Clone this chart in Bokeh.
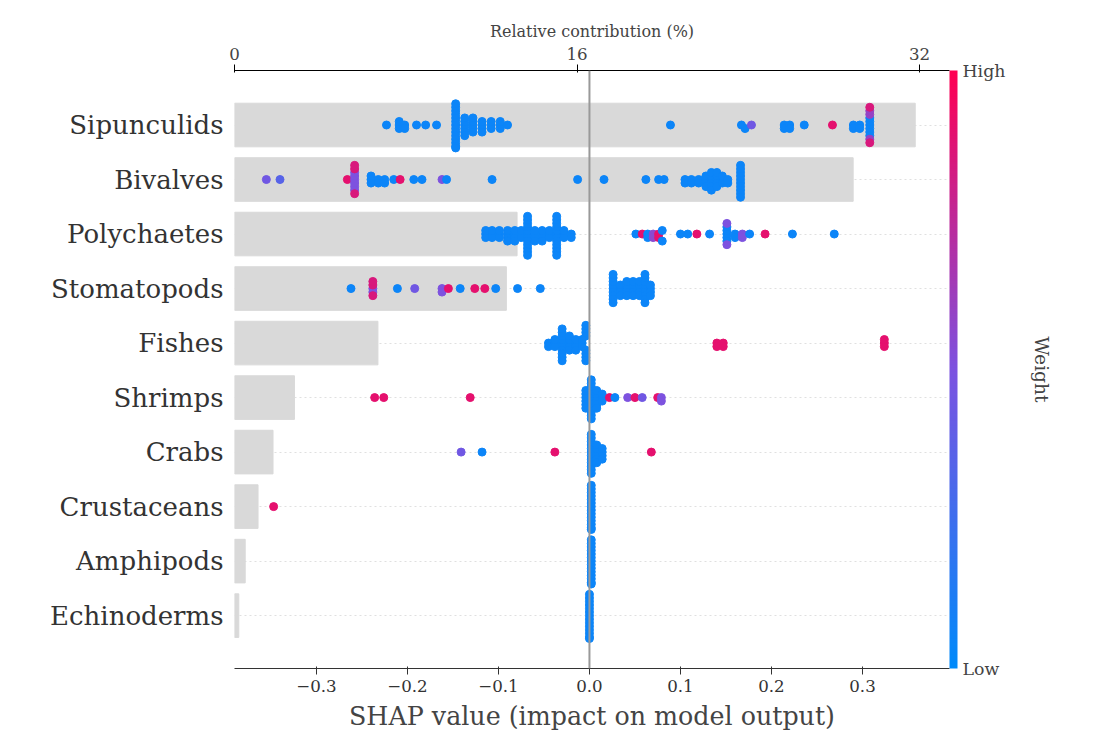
from bokeh.embed import file_html
from bokeh.models import (ColorBar, ColumnDataSource, FixedTicker, LinearAxis,
                          LinearColorMapper, Range1d, Span)
from bokeh.plotting import figure
from bokeh.resources import INLINE
from bokeh.transform import linear_cmap

FONT = "DejaVu Serif"

groups = ["Sipunculids", "Bivalves", "Polychaetes", "Stomatopods", "Fishes",
          "Shrimps", "Crabs", "Crustaceans", "Amphipods", "Echinoderms"]

# relative contribution (%) per group
contribution = [31.8, 28.9, 13.2, 12.7, 6.7, 2.8, 1.8, 1.1, 0.5, 0.2]

# SHAP clusters per group: (shap value, weight 0..1, number of samples)
sipunculids = [(-0.223, 0.05, 1), (-0.209, 0.05, 3), (-0.203, 0.05, 2), (-0.19, 0.05, 1),
               (-0.18, 0.05, 1), (-0.168, 0.05, 1), (-0.147, 0.05, 14), (-0.137, 0.05, 6),
               (-0.128, 0.05, 5), (-0.118, 0.05, 4), (-0.108, 0.05, 3), (-0.098, 0.05, 3),
               (-0.09, 0.05, 1), (0.089, 0.05, 1), (0.167, 0.05, 1), (0.171, 0.05, 1),
               (0.178, 0.45, 1), (0.214, 0.05, 2), (0.22, 0.05, 2), (0.236, 0.05, 1),
               (0.267, 0.9, 1), (0.29, 0.05, 2), (0.297, 0.05, 2), (0.308, 0.05, 6),
               (0.308, 0.6, 3), (0.308, 0.85, 2)]
bivalves = [(-0.355, 0.45, 1), (-0.34, 0.35, 1), (-0.266, 0.9, 1), (-0.258, 0.5, 6),
            (-0.258, 0.85, 3), (-0.24, 0.05, 3), (-0.232, 0.05, 2), (-0.225, 0.05, 2),
            (-0.215, 0.05, 1), (-0.208, 0.9, 1), (-0.193, 0.05, 1), (-0.184, 0.05, 1),
            (-0.162, 0.5, 1), (-0.157, 0.05, 1), (-0.107, 0.05, 1), (-0.013, 0.05, 1),
            (0.016, 0.05, 1), (0.062, 0.05, 1), (0.076, 0.05, 1), (0.082, 0.05, 1),
            (0.105, 0.05, 2), (0.112, 0.05, 2), (0.12, 0.05, 2), (0.128, 0.05, 4),
            (0.134, 0.05, 6), (0.14, 0.05, 5), (0.146, 0.05, 3), (0.152, 0.05, 2),
            (0.166, 0.05, 10)]
polychaetes = [(-0.114, 0.05, 3), (-0.107, 0.05, 3), (-0.099, 0.05, 3), (-0.09, 0.05, 4),
               (-0.082, 0.05, 4), (-0.075, 0.05, 3), (-0.068, 0.05, 12), (-0.06, 0.05, 4),
               (-0.052, 0.05, 4), (-0.044, 0.05, 3), (-0.036, 0.05, 12), (-0.028, 0.05, 3),
               (-0.02, 0.05, 2), (0.051, 0.05, 1), (0.058, 0.9, 1), (0.064, 0.05, 2),
               (0.07, 0.55, 2), (0.076, 0.9, 2), (0.08, 0.05, 2), (0.1, 0.05, 1),
               (0.108, 0.05, 1), (0.118, 0.9, 1), (0.132, 0.05, 1), (0.151, 0.05, 5),
               (0.151, 0.5, 2), (0.16, 0.05, 2), (0.168, 0.5, 2), (0.176, 0.05, 1),
               (0.193, 0.9, 1), (0.223, 0.05, 1), (0.269, 0.05, 1)]
stomatopods = [(-0.262, 0.05, 1), (-0.238, 0.85, 3), (-0.238, 0.5, 2), (-0.211, 0.05, 1),
               (-0.192, 0.45, 1), (-0.162, 0.5, 2), (-0.155, 0.9, 1), (-0.142, 0.05, 1),
               (-0.126, 0.9, 1), (-0.115, 0.9, 1), (-0.103, 0.05, 1), (-0.079, 0.05, 1),
               (-0.054, 0.05, 1), (0.026, 0.05, 9), (0.034, 0.05, 4), (0.041, 0.05, 5),
               (0.048, 0.05, 5), (0.055, 0.05, 5), (0.061, 0.05, 9), (0.067, 0.05, 4)]
fishes = [(-0.045, 0.05, 2), (-0.038, 0.05, 3), (-0.03, 0.05, 10), (-0.022, 0.05, 5),
          (-0.015, 0.05, 4), (-0.008, 0.05, 3), (-0.004, 0.05, 8), (0.14, 0.9, 2),
          (0.147, 0.9, 2), (0.324, 0.9, 3)]
shrimps = [(-0.236, 0.9, 1), (-0.226, 0.9, 1), (-0.131, 0.9, 1), (-0.004, 0.05, 6),
           (0.002, 0.05, 12), (0.008, 0.05, 6), (0.014, 0.05, 3), (0.022, 0.9, 1),
           (0.028, 0.05, 1), (0.042, 0.5, 1), (0.05, 0.9, 1), (0.058, 0.45, 1),
           (0.075, 0.9, 1), (0.079, 0.5, 2)]
crabs = [(-0.141, 0.45, 1), (-0.118, 0.05, 1), (-0.038, 0.9, 1), (0.002, 0.05, 12),
         (0.008, 0.05, 6), (0.014, 0.05, 4), (0.068, 0.9, 1)]
crustaceans = [(-0.347, 0.9, 1), (0.002, 0.05, 14)]
amphipods = [(0.002, 0.05, 14)]
echinoderms = [(0.0, 0.05, 14)]

clusters = [sipunculids, bivalves, polychaetes, stomatopods, fishes,
            shrimps, crabs, crustaceans, amphipods, echinoderms]


def shap_palette(n=256):
    stops = [(0, 138, 250), (124, 82, 224), (255, 0, 82)]
    out = []
    for i in range(n):
        t = i / (n - 1) * 2
        j = min(int(t), 1)
        f = t - j
        c = [round(stops[j][k] + (stops[j + 1][k] - stops[j][k]) * f) for k in range(3)]
        out.append("#%02x%02x%02x" % tuple(c))
    return out


palette = shap_palette()

# expand clusters into points and spread them as a swarm
xs, ys, ws = [], [], []
for row, cl in enumerate(clusters):
    pts = [(s, w) for s, w, n in cl for _ in range(n)]
    pts.sort()
    bins = {}
    for s, w in pts:
        b = round(s / 0.006)
        k = bins.get(b, 0)
        bins[b] = k + 1
        off = ((k + 1) // 2) * (1 if k % 2 else -1) * 0.065
        off = max(-0.42, min(0.42, off))
        xs.append(s)
        ys.append(row + off)
        ws.append(w)

p = figure(width=1086, height=735, frame_width=715, frame_height=598,
           min_border_left=234, min_border_top=70, min_border_bottom=55,
           x_range=Range1d(-0.39, 0.3956), y_range=Range1d(9.97, -1.0),
           output_backend="svg", toolbar_location=None, x_axis_location="below")
p.outline_line_color = None
p.xgrid.visible = False
p.ygrid.grid_line_color = "#cccccc"
p.ygrid.grid_line_dash = "2 3"
p.ygrid.grid_line_alpha = 0.6
p.extra_x_ranges = {"pct": Range1d(0, 33.4)}

p.hbar(y=list(range(len(groups))), right=contribution, left=0, height=0.8,
       x_range_name="pct", color="#d9d9d9")
p.add_layout(Span(location=0, dimension="height", line_color="#999999", line_width=2))

src = ColumnDataSource(dict(x=xs, y=ys, w=ws))
p.scatter("x", "y", source=src, size=8,
          color=linear_cmap("w", palette, 0, 1))

# axes
p.xaxis.ticker = FixedTicker(ticks=[-0.3, -0.2, -0.1, 0.0, 0.1, 0.2, 0.3])
p.xaxis.major_label_overrides = {-0.3: "\u22120.3", -0.2: "\u22120.2", -0.1: "\u22120.1",
                                 0.0: "0.0", 0.1: "0.1", 0.2: "0.2", 0.3: "0.3"}
p.xaxis.axis_label = "SHAP value (impact on model output)"
p.xaxis.axis_label_text_font = FONT
p.xaxis.axis_label_text_font_style = "normal"
p.xaxis.axis_label_text_font_size = "19pt"
p.xaxis.axis_label_standoff = 6
p.xaxis.major_label_text_font = FONT
p.xaxis.major_label_text_font_size = "12.5pt"
p.xaxis.major_label_text_color = "#333333"
p.xaxis.minor_tick_line_color = None
p.xaxis.axis_line_color = "#333333"
p.xaxis.major_tick_line_color = "#333333"

top = LinearAxis(x_range_name="pct", ticker=FixedTicker(ticks=[0, 16, 32]),
                 axis_label="Relative contribution (%)")
top.axis_label_text_font = FONT
top.axis_label_text_font_style = "normal"
top.axis_label_text_font_size = "12pt"
top.axis_label_standoff = 4
top.major_label_text_font = FONT
top.major_label_text_font_size = "12.5pt"
top.minor_tick_line_color = None
top.axis_line_color = "black"
top.major_tick_line_color = "black"
p.add_layout(top, "above")

p.yaxis.ticker = FixedTicker(ticks=list(range(len(groups))))
p.yaxis.major_label_overrides = {i: g for i, g in enumerate(groups)}
p.yaxis.major_label_text_font = FONT
p.yaxis.major_label_text_font_size = "19.5pt"
p.yaxis.major_label_text_color = "#333333"
p.yaxis.axis_line_color = None
p.yaxis.major_tick_line_color = None
p.yaxis.minor_tick_line_color = None

mapper = LinearColorMapper(palette=palette, low=0, high=1)
cb = ColorBar(color_mapper=mapper, width=8, height=598, location=(0, 0),
              ticker=FixedTicker(ticks=[0, 1]), major_label_overrides={0: "Low", 1: "High"},
              major_tick_line_color=None, bar_line_color=None, padding=0,
              margin=44, major_label_text_font=FONT, major_label_text_font_size="13pt",
              background_fill_color=None)
p.add_layout(cb, "right")

wax = LinearAxis(axis_label="Weight", major_label_text_font_size="0pt",
                 axis_line_color=None, major_tick_line_color=None,
                 minor_tick_line_color=None, ticker=FixedTicker(ticks=[]))
wax.axis_label_text_font = FONT
wax.axis_label_text_font_style = "normal"
wax.axis_label_text_font_size = "14pt"
wax.axis_label_standoff = 22
p.add_layout(wax, "right")

open("out.html", "w").write(file_html(p, INLINE))
